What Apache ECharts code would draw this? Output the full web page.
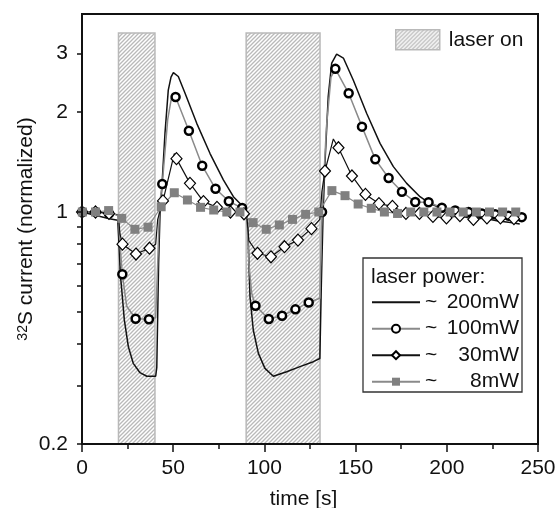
<!DOCTYPE html>
<html>
<head>
<meta charset="utf-8">
<script src="https://cdn.jsdelivr.net/npm/echarts@6/dist/echarts.min.js"></script>
<style>
  html, body { margin: 0; padding: 0; background: #fff; }
  #chart { width: 557px; height: 508px; }
</style>
</head>
<body>
<div id="chart"></div>
<script>
// Axis ticks and labels
const X_TICKS_INTERVAL = 50;
const Y_LABELS = [0.2, 1, 2, 3];
const Y_TICKS = [0.2, 0.3, 0.4, 0.5, 0.6, 0.7, 0.8, 0.9, 1, 2, 3];

// Laser-on intervals [s] and the height of the shaded bands
const laserStart = [20, 90];
const laserEnd = [40, 130.5];
const laserTop = 3.46;

// ~200mW trace (continuous, no markers)
const t200 = [0, 5, 10, 15, 19.6, 20.3, 21.0, 21.8, 23.2, 25.4, 28.1, 31.8, 35.5, 40.4, 41.0, 42.0, 42.8, 43.7, 45.5, 47.3, 48.8, 50.1, 52.8, 56.5, 62.9, 70.2, 77.5, 83, 88.4,
              90.5, 91.2, 92.1, 93.9, 96.7, 100.3, 104.9, 112.2, 119.5, 126.8, 130.4, 131.2, 132.2, 133.2, 135, 136.9, 139.6, 143.3, 148.7, 156.1, 163.4, 170.7, 178, 185.3, 190.8, 198, 205, 212, 220, 228, 235, 240];
const v200 = [1.0, 0.985, 0.97, 0.955, 0.945, 0.8, 0.65, 0.582, 0.473, 0.393, 0.35, 0.328, 0.32, 0.32, 0.34, 0.7, 1.0, 1.165, 1.73, 2.33, 2.55, 2.63, 2.56, 2.28, 1.85, 1.50, 1.25, 1.112, 1.037,
              1.0, 0.8, 0.556, 0.441, 0.375, 0.338, 0.320, 0.330, 0.342, 0.354, 0.362, 0.6, 1.0, 1.40, 2.23, 2.81, 2.99, 2.91, 2.50, 1.98, 1.61, 1.37, 1.22, 1.112, 1.06, 1.02, 1.0, 0.98, 0.96, 0.94, 0.93, 0.92];

// ~100mW: marked samples and extra trace points between them
const t100 = [0.2, 7.5, 14.8, 22.1, 29.4, 36.7, 44.0, 51.3, 58.6, 65.9, 73.2, 80.5, 87.8, 95.1, 102.4, 109.7, 117.0, 124.3, 131.6, 138.9, 146.2, 153.5, 160.8, 168.1, 175.4, 182.7, 190.0, 197.3, 204.6, 211.9, 219.2, 226.5, 233.8, 241.1];
const v100 = [1.0, 1.0, 0.99, 0.649, 0.477, 0.475, 1.214, 2.22, 1.758, 1.379, 1.175, 1.077, 1.028, 0.522, 0.476, 0.487, 0.509, 0.534, 1.0, 2.70, 2.279, 1.808, 1.441, 1.266, 1.151, 1.072, 1.07, 1.03, 1.01, 1.0, 0.99, 0.985, 0.975, 0.965];
const t100Trace = [19.9, 20.8, 24.5, 40.4, 41.5, 42.5, 47.0, 49.0, 90.4, 91.5, 93.0, 130.4, 134.0, 136.5];
const v100Trace = [0.98, 0.8, 0.52, 0.48, 0.7, 1.05, 1.9, 2.2, 0.99, 0.7, 0.57, 0.55, 1.8, 2.55];

// ~30mW: marked samples and extra trace points
const t30 = [0, 7.4, 14.8, 22.2, 29.6, 37.0, 44.4, 51.8, 59.2, 66.6, 74.0, 81.4, 88.8, 96.2, 103.6, 111.0, 118.4, 125.8, 133.2, 140.6, 148.0, 155.4, 162.8, 170.2, 177.6, 185.0, 192.4, 199.8, 207.2, 214.6, 222.0, 229.4, 236.8];
const v30 = [1.0, 1.0, 0.99, 0.80, 0.747, 0.778, 1.08, 1.448, 1.22, 1.075, 1.033, 1.0, 0.988, 0.751, 0.733, 0.786, 0.823, 0.891, 1.329, 1.562, 1.284, 1.13, 1.06, 1.04, 0.99, 0.99, 0.97, 0.96, 0.975, 0.95, 0.96, 0.96, 0.955];
const t30Trace = [19.9, 20.8, 40.4, 41.5, 50.6, 90.3, 91.5, 130.4, 131.5, 137.8, 240];
const v30Trace = [0.98, 0.86, 0.80, 0.95, 1.50, 0.98, 0.82, 0.95, 1.15, 1.66, 0.94];

// ~8mW: marked samples
const t8 = [0.2, 7.4, 14.6, 21.8, 29.0, 36.2, 43.4, 50.6, 57.8, 65.0, 72.2, 79.4, 86.6, 93.8, 101.0, 108.2, 115.4, 122.6, 129.8, 137.0, 144.2, 151.4, 158.6, 165.8, 173.0, 180.2, 187.4, 194.6, 201.8, 209.0, 216.2, 223.4, 230.6, 237.8];
const v8 = [1.0, 1.0, 1.01, 0.957, 0.887, 0.90, 1.037, 1.143, 1.087, 1.033, 1.014, 1.0, 1.0, 0.929, 0.887, 0.914, 0.95, 0.984, 1.0, 1.16, 1.12, 1.057, 1.026, 1.0, 0.99, 1.0, 1.0, 1.0, 1.0, 1.0, 1.0, 1.0, 1.0, 1.0];

const seriesNames = ['200mW', '100mW', '30mW', '8mW'];

const FONT = '"Liberation Sans", Arial, Helvetica, sans-serif';
const INK = '#111';
const GREY = '#8a8a8a';
const HATCH_LINE = '#b9b9b9';

// Diagonal hatch tile used for the laser-on bands
function hatchTile() {
  const s = 4;
  const c = document.createElement('canvas');
  c.width = s; c.height = s;
  const g = c.getContext('2d');
  g.fillStyle = '#fff';
  g.fillRect(0, 0, s, s);
  g.strokeStyle = HATCH_LINE;
  g.lineWidth = 1.3;
  g.beginPath();
  g.moveTo(-1, s + 1); g.lineTo(s + 1, -1);
  g.moveTo(-1, 1); g.lineTo(1, -1);
  g.moveTo(s - 1, s + 1); g.lineTo(s + 1, s - 1);
  g.stroke();
  return c;
}
const hatchFill = { image: hatchTile(), repeat: 'repeat' };

// Merge marked samples with unmarked trace points, ordered in time
function buildTrace(tm, vm, tl, vl) {
  const pts = tm.map((t, i) => ({ value: [t, vm[i]] }));
  (tl || []).forEach((t, i) => pts.push({ value: [t, vl[i]], symbol: 'none' }));
  pts.sort((a, b) => a.value[0] - b.value[0]);
  return pts;
}

const bands = laserStart.map((s, i) => [s, laserEnd[i], laserTop]);

const chart = echarts.init(document.getElementById('chart'), null, { renderer: 'canvas' });

const option = {
  animation: false,
  backgroundColor: '#fff',
  grid: {
    left: 82, top: 14, right: 19, bottom: 64,
    outerBoundsMode: 'none', containLabel: false,
    show: true, borderColor: INK, borderWidth: 2, backgroundColor: 'transparent'
  },
  xAxis: {
    type: 'value', min: 0, max: 250, interval: X_TICKS_INTERVAL, z: 5,
    axisLine: { onZero: false, lineStyle: { color: INK, width: 2 } },
    axisTick: { inside: false, length: 8, lineStyle: { color: INK, width: 1.5 } },
    minorTick: { show: true, splitNumber: 2, length: 5, lineStyle: { color: INK, width: 1.5 } },
    axisLabel: { fontSize: 21, color: INK, fontFamily: FONT, margin: 14 },
    splitLine: { show: false },
    minorSplitLine: { show: false },
    name: 'time [s]', nameLocation: 'middle', nameGap: 45, nameMoveOverlap: false,
    nameTextStyle: { fontSize: 21, color: INK, fontFamily: FONT, padding: [0, 13, 0, 0] }
  },
  yAxis: {
    type: 'log', logBase: 10, min: 0.2, max: 3.95, z: 5,
    axisLine: { show: true, onZero: false, lineStyle: { color: INK, width: 2 } },
    axisTick: { show: true, inside: false, length: 5, lineStyle: { color: INK, width: 1.5 }, customValues: Y_TICKS },
    axisLabel: {
      fontSize: 21, color: INK, fontFamily: FONT, margin: 14, customValues: Y_LABELS,
      formatter: v => String(+(+v).toPrecision(3))
    },
    splitLine: { show: false },
    minorTick: { show: false },
    name: '{sup|32}{main|S current (normalized)}',
    nameLocation: 'middle', nameGap: 45, nameRotate: 90, nameMoveOverlap: false,
    nameTextStyle: {
      fontSize: 21, color: INK, fontFamily: FONT,
      rich: {
        sup: { fontSize: 14, color: INK, fontFamily: FONT, verticalAlign: 'top' },
        main: { fontSize: 21, color: INK, fontFamily: FONT }
      }
    }
  },
  legend: [
    {
      data: ['laser on'], left: 395, top: 29, padding: 0, orient: 'horizontal',
      itemWidth: 44, itemHeight: 20, icon: 'rect', selectedMode: false,
      itemStyle: { borderColor: HATCH_LINE, borderWidth: 1.5 },
      textStyle: { fontSize: 21, color: INK, fontFamily: FONT, padding: [0, 0, 0, 4] }
    },
    {
      data: [{ name: '200mW', itemStyle: { opacity: 0 } }, '100mW', '30mW', '8mW'],
      orient: 'vertical', left: 371, top: 291.7, padding: 0, itemGap: 5.5,
      itemWidth: 48, itemHeight: 10, selectedMode: false,
      formatter: n => '{t|~}{n|' + n + '}',
      textStyle: {
        fontSize: 21, color: INK, fontFamily: FONT,
        rich: {
          t: { fontSize: 21, color: INK, fontFamily: FONT, width: 12, lineHeight: 20 },
          n: { fontSize: 21, color: INK, fontFamily: FONT, width: 82, align: 'right', lineHeight: 20 }
        }
      }
    }
  ],
  graphic: [
    {
      type: 'rect', z: 1,
      shape: { x: 363, y: 258, width: 159, height: 134 },
      style: { fill: 'none', stroke: '#333', lineWidth: 1.3 }
    },
    {
      type: 'text', z: 1, x: 371, y: 277,
      style: { text: 'laser power:', fontSize: 21, fontFamily: FONT, fill: INK, verticalAlign: 'middle' }
    }
  ],
  series: [
    {
      name: 'laser on', type: 'custom', z: 1,
      itemStyle: { color: hatchFill, borderColor: HATCH_LINE, borderWidth: 1.5 },
      encode: { x: [0, 1], y: 2 },
      data: bands,
      renderItem: (params, api) => {
        const p0 = api.coord([api.value(0), api.value(2)]);
        const p1 = api.coord([api.value(1), 0.2]);
        return {
          type: 'rect',
          shape: { x: p0[0], y: p0[1], width: p1[0] - p0[0], height: p1[1] - p0[1] },
          style: { fill: hatchFill, stroke: HATCH_LINE, lineWidth: 1.5 }
        };
      }
    },
    {
      name: seriesNames[0], type: 'line', z: 3,
      symbol: 'none',
      itemStyle: { color: INK },
      lineStyle: { color: INK, width: 1.5 },
      data: t200.map((t, i) => [t, v200[i]])
    },
    {
      name: seriesNames[1], type: 'line', z: 3,
      symbol: 'circle', symbolSize: 8, showAllSymbol: true,
      itemStyle: { color: '#fff', borderColor: '#000', borderWidth: 2.5 },
      lineStyle: { color: GREY, width: 1.5 },
      data: buildTrace(t100, v100, t100Trace, v100Trace)
    },
    {
      name: seriesNames[2], type: 'line', z: 3,
      symbol: 'diamond', symbolSize: [11, 12], showAllSymbol: true,
      itemStyle: { color: '#fff', borderColor: '#000', borderWidth: 1.2 },
      lineStyle: { color: INK, width: 1.2 },
      data: buildTrace(t30, v30, t30Trace, v30Trace)
    },
    {
      name: seriesNames[3], type: 'line', z: 3,
      symbol: 'rect', symbolSize: 9, showAllSymbol: true,
      itemStyle: { color: '#808080' },
      lineStyle: { color: GREY, width: 1.2 },
      data: buildTrace(t8, v8)
    }
  ]
};

chart.setOption(option);
</script>
</body>
</html>
